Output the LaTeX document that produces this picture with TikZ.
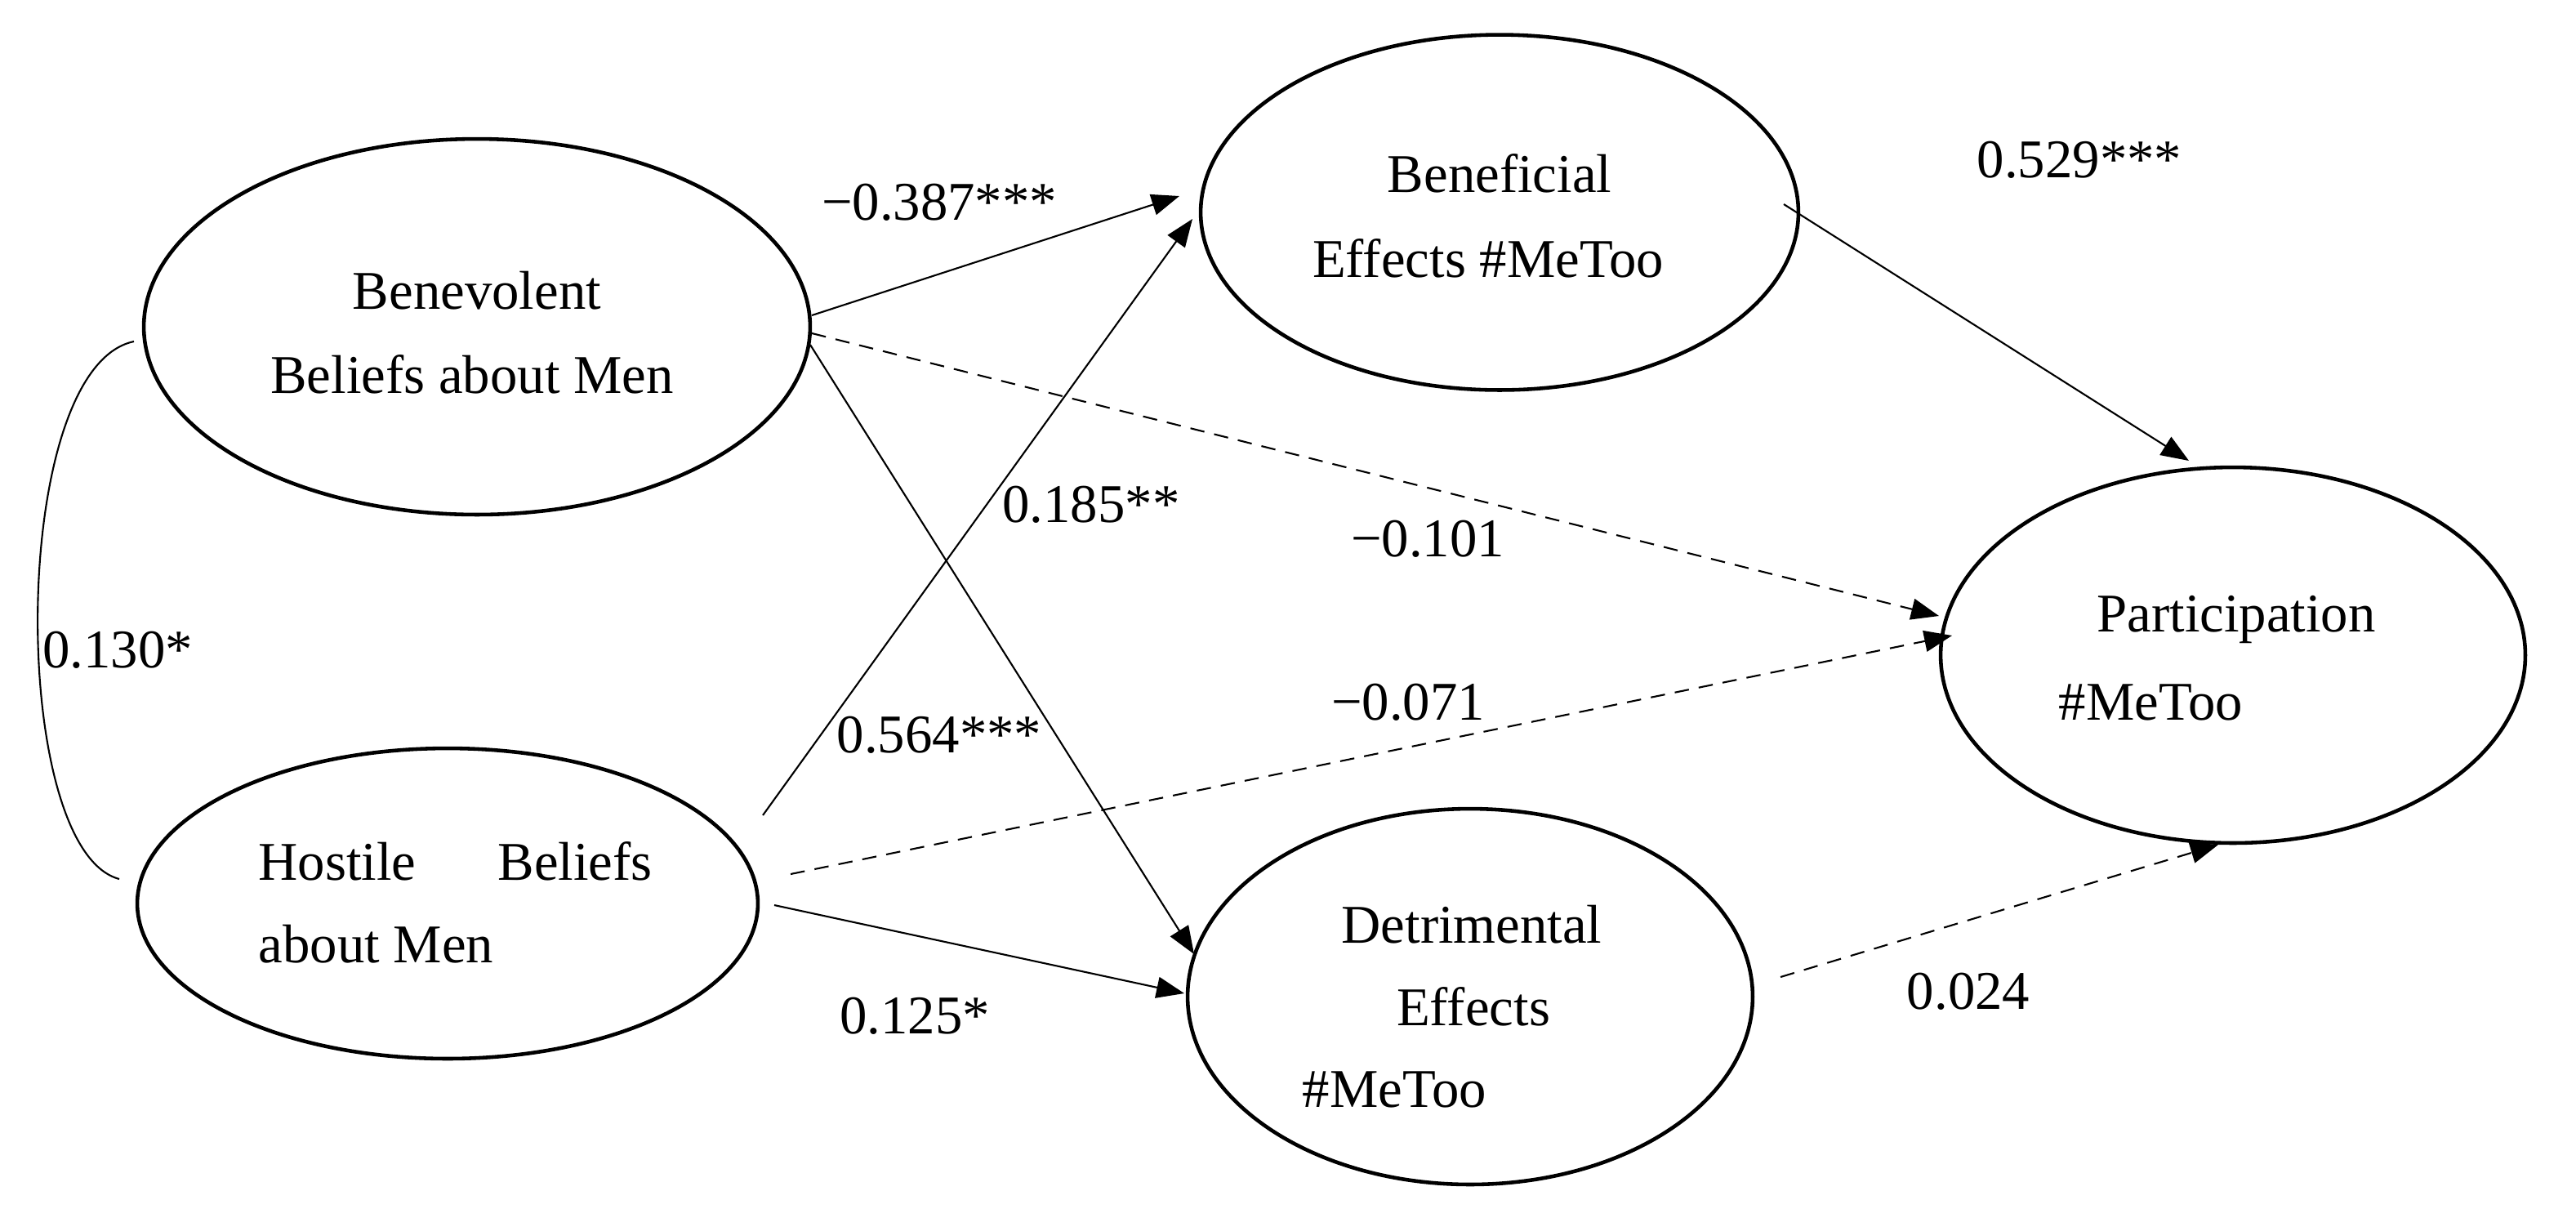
\documentclass[tikz,border=0pt]{standalone}
\usepackage{fontspec}
\setmainfont{Liberation Serif}
\usetikzlibrary{shapes.geometric,arrows.meta}
\begin{document}
\begin{tikzpicture}[x=0.02cm,y=-0.02cm,
  latent/.style={ellipse,draw,line width=1.3pt,inner sep=0pt},
  txt/.style={font=\fontsize{19}{22}\selectfont,inner sep=0pt},
  lbl/.style={font=\fontsize{19}{22}\selectfont,inner sep=0pt},
  path/.style={line width=0.6pt,-{Triangle[length=0.34cm,width=0.26cm]}},
  dpath/.style={path,dash pattern=on 5pt off 3.5pt}]
\useasboundingbox (0,0) rectangle (1577,739.5);
\node[latent,minimum width=8.16cm,minimum height=4.6cm] (ben) at (292,200) {};
\node[latent,minimum width=7.6cm,minimum height=3.8cm] (hos) at (274,553) {};
\node[latent,minimum width=7.32cm,minimum height=4.35cm] (bef) at (918,130) {};
\node[latent,minimum width=6.92cm,minimum height=4.6cm] (det) at (900,610) {};
\node[latent,minimum width=7.16cm,minimum height=4.6cm] (par) at (1367,401) {};
\node[txt] (t1) at (292,178) {Benevolent};
\node[txt] (t2) at (289,229) {Beliefs about Men};
\node[txt,anchor=west] (t3) at (158,527) {Hostile\hspace{1.0cm}Beliefs};
\node[txt,anchor=west] (t4) at (158,578) {about Men};
\node[txt] (t5) at (918,106) {Beneficial};
\node[txt] (t6) at (911,158) {Effects \#MeToo};
\node[txt] (t7) at (901,566) {Detrimental};
\node[txt] (t8) at (902,616) {Effects};
\node[txt,anchor=west] (t9) at (797,667) {\#MeToo};
\node[txt] (t10) at (1369,379) {Participation};
\node[txt,anchor=west] (t11) at (1260,430) {\#MeToo};
% endpoints
\coordinate (a1) at (497,193); \coordinate (a2) at (722,120);
\coordinate (b1) at (467,499); \coordinate (b2) at (730,134);
\coordinate (c1) at (496,211); \coordinate (c2) at (731,584);
\coordinate (d1) at (474,554); \coordinate (d2) at (725,608);
\coordinate (e1) at (497,204); \coordinate (e2) at (1187,377);
\coordinate (f1) at (484,535); \coordinate (f2) at (1195,389);
\coordinate (g1) at (1092,125); \coordinate (g2) at (1340,282);
\coordinate (h1) at (1090,598); \coordinate (h2) at (1358,517);
\coordinate (k1) at (82,209); \coordinate (k2) at (73,538);
\draw[path] (a1) -- (a2);
\draw[path] (b1) -- (b2);
\draw[path] (c1) -- (c2);
\draw[path] (d1) -- (d2);
\draw[dpath] (e1) -- (e2);
\draw[dpath] (f1) -- (f2);
\draw[path] (g1) -- (g2);
\draw[dpath] (h1) -- (h2);
\draw[line width=0.6pt] (k1) .. controls (5,225) and (5,520) .. (k2);
\node[lbl] (l1) at (575,124) {\textminus0.387***};
\node[lbl] (l2) at (668,309) {0.185**};
\node[lbl] (l3) at (575,450) {0.564***};
\node[lbl] (l4) at (560,622) {0.125*};
\node[lbl] (l5) at (72,398) {0.130*};
\node[lbl] (l6) at (874,330) {\textminus0.101};
\node[lbl] (l7) at (862,430) {\textminus0.071};
\node[lbl] (l8) at (1273,98) {0.529***};
\node[lbl] (l9) at (1205,607) {0.024};
\end{tikzpicture}
\end{document}
